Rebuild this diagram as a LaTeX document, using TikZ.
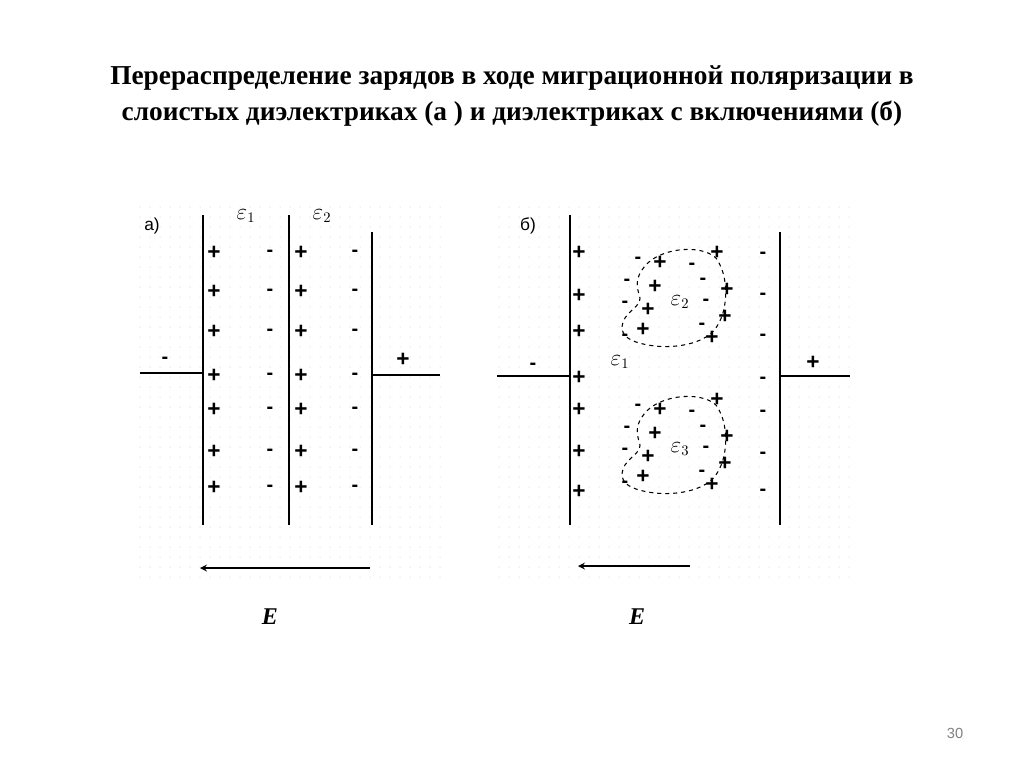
\documentclass[tikz,border=0pt]{standalone}
\usepackage{fontspec}
\setmainfont{Liberation Serif}
\setsansfont{Liberation Sans}
\begin{document}
\begin{tikzpicture}[x=0.75pt,y=-0.75pt,
  vline/.style={line width=1.3pt},
  lead/.style={line width=0.9pt},
  plus/.style={font=\sffamily\bfseries\fontsize{17}{17}\selectfont},
  minus/.style={font=\sffamily\bfseries\fontsize{15}{15}\selectfont,inner sep=0.5pt},
  eps/.style={font=\fontsize{16}{16}\selectfont},
  blob/.style={dashed,line width=0.8pt},
  bigE/.style={font=\bfseries\itshape\fontsize{18}{18}\selectfont}]
\useasboundingbox (0,0) rectangle (1024,767);
% dotted backgrounds
\foreach \x in {0,...,30} \foreach \y in {0,...,37}
  \fill[black!25] (140+\x*10,207+\y*10) circle (0.5);
\foreach \x in {0,...,35} \foreach \y in {0,...,37}
  \fill[black!25] (499+\x*10,207+\y*10) circle (0.5);
% title
\node[font=\bfseries\fontsize{20.5}{27}\selectfont,align=center] (title) at (512,96)
 {Перераспределение зарядов в ходе миграционной поляризации в\\слоистых диэлектриках (а ) и диэлектриках с включениями (б)};
\node[text=black!50,font=\sffamily\fontsize{11}{11}\selectfont] (pg) at (955,733) {30};
% panel a
\node[font=\sffamily\fontsize{13}{13}\selectfont] (la) at (152,226) {a)};
\coordinate (a1t) at (203,215); \coordinate (a1b) at (203,525);
\coordinate (a2t) at (289,215); \coordinate (a2b) at (289,525);
\coordinate (a3t) at (372,232); \coordinate (a3b) at (372,525);
\draw[vline] (a1t)--(a1b); \draw[vline] (a2t)--(a2b); \draw[vline] (a3t)--(a3b);
\node[eps] (ea1) at (246,216) {$\varepsilon_1$};
\node[eps] (ea2) at (322,216) {$\varepsilon_2$};
\foreach \y in {253,292,332,376,410,452,488}{
  \node[plus] at (214,\y) {+}; \node[minus] at (270,\y) {-};
  \node[plus] at (301,\y) {+}; \node[minus] at (355,\y) {-};}
\coordinate (al) at (140,373); \coordinate (al2) at (203,373);
\coordinate (ar) at (440,375); \coordinate (ar2) at (372,375);
\draw[lead] (al)--(al2); \draw[lead] (ar2)--(ar);
\node[minus] at (165,360) {-}; \node[plus] at (403,360) {+};
\coordinate (aa1) at (370,568); \coordinate (aa2) at (200,568);
\draw[line width=1.3pt,-stealth] (aa1)--(aa2);
\node[bigE] (Ea) at (270,617) {E};
% panel b
\node[font=\sffamily\fontsize{13}{13}\selectfont] (lb) at (528,226) {б)};
\coordinate (b1t) at (570,215); \coordinate (b1b) at (570,525);
\coordinate (b2t) at (780,232); \coordinate (b2b) at (780,525);
\draw[vline] (b1t)--(b1b); \draw[vline] (b2t)--(b2b);
\foreach \y in {253,296,332,378,410,452,492} \node[plus] at (579,\y) {+};
\foreach \y in {255,296,337,380,413,455,492} \node[minus] at (763,\y) {-};
\coordinate (bl) at (497,376); \coordinate (bl2) at (570,376);
\coordinate (br) at (850,376); \coordinate (br2) at (780,376);
\draw[lead] (bl)--(bl2); \draw[lead] (br2)--(br);
\node[minus] at (533,366) {-}; \node[plus] at (813,363) {+};
\node[eps] (eb1) at (620,362) {$\varepsilon_1$};
\foreach \dy/\lab in {0/2,147/3}{
  \begin{scope}[yshift=-\dy*0.75pt]
  \draw[blob] (642,270) .. controls (655,248) and (700,243) .. (716,258)
    .. controls (732,280) and (728,325) .. (706,337)
    .. controls (690,347) and (660,350) .. (636,342)
    .. controls (624,338) and (618,330) .. (625,318)
    .. controls (630,310) and (640,306) .. (640,298)
    .. controls (637,288) and (635,280) .. (642,270);
  \node[eps] at (680,302) {$\varepsilon_\lab$};
  \foreach \x/\y in {660/263,717/253,655/287,727/290,648/310,725/317,643/330,712/338}
    \node[plus] at (\x,\y) {+};
  \foreach \x/\y in {638/260,692/266,627/282,703/281,625/304,706/302,625/337,702/326}
    \node[minus] at (\x,\y) {-};
  \end{scope}}
\coordinate (ba1) at (690,566); \coordinate (ba2) at (578,566);
\draw[line width=1.3pt,-stealth] (ba1)--(ba2);
\node[bigE] (Eb) at (637,617) {E};
\end{tikzpicture}
\end{document}
